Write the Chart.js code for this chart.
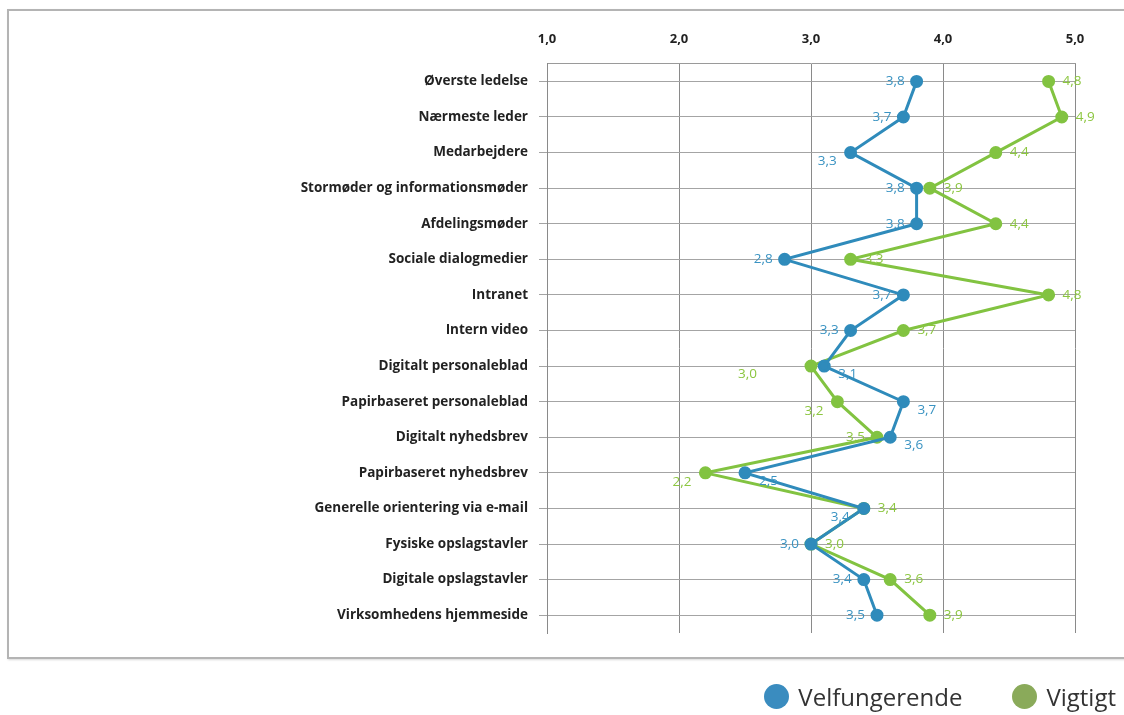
<!DOCTYPE html>
<html>
<head>
<meta charset="utf-8">
<script src="https://cdn.jsdelivr.net/npm/chart.js@4.4.1/dist/chart.umd.min.js"></script>
<style>
  html, body { margin: 0; padding: 0; background: #fff; }
  #wrap { position: relative; width: 1124px; height: 715px; overflow: hidden; }
  #frame {
    position: absolute; left: 7px; top: 9px; width: 1130px; height: 646px;
    border: 2px solid #b4b4b4; box-shadow: 1px 1px 2px #d8d8d8;
  }
  #chart { position: absolute; left: 0; top: 0; }
  #legend {
    position: absolute; top: 680px; right: 8px; display: flex; gap: 50px;
    font-family: "Open Sans", Lato, sans-serif; font-size: 24px; color: #333;
  }
  #legend span.item { display: flex; align-items: center; }
  #legend span.dot { width: 25px; height: 25px; border-radius: 50%; margin-right: 9px; display: inline-block; }
</style>
</head>
<body>
<div id="wrap">
  <div id="frame"></div>
  <canvas id="chart" width="1124" height="715"></canvas>
  <div id="legend"></div>
</div>
<script>
const categories = [
  'Øverste ledelse',
  'Nærmeste leder',
  'Medarbejdere',
  'Stormøder og informationsmøder',
  'Afdelingsmøder',
  'Sociale dialogmedier',
  'Intranet',
  'Intern video',
  'Digitalt personaleblad',
  'Papirbaseret personaleblad',
  'Digitalt nyhedsbrev',
  'Papirbaseret nyhedsbrev',
  'Generelle orientering via e-mail',
  'Fysiske opslagstavler',
  'Digitale opslagstavler',
  'Virksomhedens hjemmeside'
];
const velfungerende = [3.8, 3.7, 3.3, 3.8, 3.8, 2.8, 3.7, 3.3, 3.1, 3.7, 3.6, 2.5, 3.4, 3.0, 3.4, 3.5];
const vigtigt = [4.8, 4.9, 4.4, 3.9, 4.4, 3.3, 4.8, 3.7, 3.0, 3.2, 3.5, 2.2, 3.4, 3.0, 3.6, 3.9];
const xTicks = [1, 2, 3, 4, 5];

// where each value label sits relative to its point
const bluePlace = ['l', 'l', 'bl', 'l', 'l', 'l', 'l', 'l', 'br', 'br', 'br', 'br', 'bl', 'l', 'l', 'l'];
const greenPlace = ['r', 'r', 'r', 'r', 'r', 'r', 'r', 'r', 'fl', 'bl', 'l', 'bl', 'r', 'r', 'r', 'r'];

const BLUE = '#2f8bbb';
const GREEN = '#82c341';
const comma = v => v.toFixed(1).replace('.', ',');

const valueLabels = {
  id: 'valueLabels',
  afterDatasetsDraw(chart) {
    const ctx = chart.ctx;
    ctx.save();
    ctx.font = '13.5px "Open Sans", Lato, sans-serif';
    ctx.textBaseline = 'middle';
    chart.data.datasets.forEach((ds, i) => {
      const meta = chart.getDatasetMeta(i);
      meta.data.forEach((pt, j) => {
        const place = ds.labelPlace[j];
        let x = pt.x, y = pt.y;
        if (place === 'l') { ctx.textAlign = 'right'; x -= 12; }
        else if (place === 'r') { ctx.textAlign = 'left'; x += 14; }
        else if (place === 'bl') { ctx.textAlign = 'right'; x -= 14; y += 9; }
        else if (place === 'br') { ctx.textAlign = 'left'; x += 14; y += 8; }
        else if (place === 'fl') { ctx.textAlign = 'right'; x -= 54; y += 8; }
        ctx.fillStyle = ds.labelColor;
        ctx.fillText(comma(ds.data[j]), x, y);
      });
    });
    ctx.restore();
  }
};

const chart = new Chart(document.getElementById('chart'), {
  type: 'line',
  data: {
    labels: categories,
    datasets: [
      {
        label: 'Velfungerende',
        data: velfungerende,
        borderColor: BLUE,
        backgroundColor: BLUE,
        borderWidth: 3,
        pointRadius: 5,
        pointHoverRadius: 5,
        labelColor: '#3a93c2',
        labelPlace: bluePlace,
        legendColor: '#3a8cbf'
      },
      {
        label: 'Vigtigt',
        data: vigtigt,
        borderColor: GREEN,
        backgroundColor: GREEN,
        borderWidth: 3,
        pointRadius: 5,
        pointHoverRadius: 5,
        labelColor: '#8cc640',
        labelPlace: greenPlace,
        legendColor: '#8aaa5a'
      }
    ]
  },
  options: {
    indexAxis: 'y',
    responsive: false,
    animation: false,
    layout: { padding: { left: 0, right: 49, top: 14, bottom: 82 } },
    plugins: {
      legend: { display: false },
      tooltip: { enabled: false }
    },
    scales: {
      x: {
        type: 'linear',
        position: 'top',
        min: 1,
        max: 5,
        afterBuildTicks: scale => { scale.ticks = xTicks.map(v => ({ value: v })); },
        ticks: {
          callback: v => comma(v),
          color: '#222',
          font: { family: '"Open Sans", Lato, sans-serif', size: 13, weight: 'bold' },
          padding: 17
        },
        grid: { color: '#8a8a8a', lineWidth: 1, drawTicks: false },
        border: { color: '#9a9a9a' }
      },
      y: {
        type: 'category',
        offset: true,
        afterFit: scale => { scale.width = 547; },
        ticks: {
          color: '#222',
          font: { family: '"Open Sans", Lato, sans-serif', size: 13.5, weight: 'bold' },
          padding: 11,
          autoSkip: false
        },
        grid: { color: '#a4a4a4', lineWidth: 1, offset: false, tickLength: 8 },
        border: { color: '#8a8a8a' }
      }
    }
  },
  plugins: [valueLabels]
});

// legend built from the datasets
const legend = document.getElementById('legend');
chart.data.datasets.forEach(ds => {
  const item = document.createElement('span');
  item.className = 'item';
  const dot = document.createElement('span');
  dot.className = 'dot';
  dot.style.background = ds.legendColor;
  item.appendChild(dot);
  item.appendChild(document.createTextNode(ds.label));
  legend.appendChild(item);
});
</script>
</body>
</html>
